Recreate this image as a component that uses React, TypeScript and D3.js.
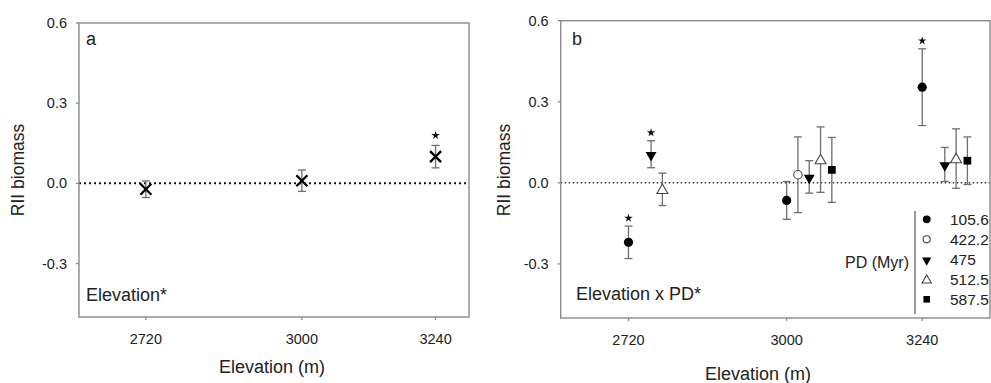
import React from "react";
import * as d3 from "d3";

// ---------- data ----------
const elevations = [2720, 3000, 3240];
const elevationTicks = [2720, 3000, 3240];
const yTicks = [-0.3, 0.0, 0.3, 0.6];

// Panel a (pooled)
const meanA = [-0.022, 0.01, 0.1];
const seA = [0.031, 0.04, 0.042];
const sigA = [false, false, true];

// Panel b (by phylogenetic distance)
const pdLabels = ["105.6", "422.2", "475", "512.5", "587.5"];
const pdShapes = ["circle", "circleOpen", "triDown", "triUp", "square"];
const mean105 = [-0.22, -0.065, 0.354];
const se105 = [0.06, 0.07, 0.142];
const sig105 = [true, false, true];
const mean422: (number | null)[] = [null, 0.03, null];
const se422: (number | null)[] = [null, 0.14, null];
const sig422 = [false, false, false];
const mean475 = [0.106, 0.022, 0.068];
const se475 = [0.05, 0.06, 0.063];
const sig475 = [true, false, false];
const mean512 = [-0.024, 0.086, 0.09];
const se512 = [0.06, 0.121, 0.11];
const sig512 = [false, false, false];
const mean587: (number | null)[] = [null, 0.048, 0.082];
const se587: (number | null)[] = [null, 0.12, 0.088];
const sig587 = [false, false, false];

const seriesB = [
  { label: pdLabels[0], shape: pdShapes[0], mean: mean105, se: se105, sig: sig105 },
  { label: pdLabels[1], shape: pdShapes[1], mean: mean422, se: se422, sig: sig422 },
  { label: pdLabels[2], shape: pdShapes[2], mean: mean475, se: se475, sig: sig475 },
  { label: pdLabels[3], shape: pdShapes[3], mean: mean512, se: se512, sig: sig512 },
  { label: pdLabels[4], shape: pdShapes[4], mean: mean587, se: se587, sig: sig587 },
];
const dodge = 20; // metres between PD levels

const FONT = "'Liberation Sans', Arial, Helvetica, sans-serif";
const FRAME = "#8a8a8a";
const ERR = "#6e6e6e";
const TXT = "#222";

function Marker({ shape, x, y, s = 1 }: { shape: string; x: number; y: number; s?: number }) {
  if (shape === "circle") return <circle cx={x} cy={y} r={4.6 * s} fill="#000" />;
  if (shape === "circleOpen")
    return <circle cx={x} cy={y} r={4.2 * s} fill="#fff" stroke="#444" strokeWidth={1.1} />;
  if (shape === "triDown") {
    const p = d3.symbol(d3.symbolTriangle, 52 * s * s)();
    return <path d={p!} transform={`translate(${x},${y + 1}) rotate(180)`} fill="#000" />;
  }
  if (shape === "triUp") {
    const p = d3.symbol(d3.symbolTriangle, 52 * s * s)();
    return (
      <path d={p!} transform={`translate(${x},${y + 1})`} fill="#fff" stroke="#444" strokeWidth={1.1} />
    );
  }
  const p = d3.symbol(d3.symbolSquare, 60 * s * s)();
  return <path d={p!} transform={`translate(${x},${y})`} fill="#000" />;
}

function Star({ x, y }: { x: number; y: number }) {
  const p = d3.symbol(d3.symbolStar, 22)();
  return <path d={p!} transform={`translate(${x},${y})`} fill="#111" />;
}

function ErrBar({ x, y0, y1, cap = 4 }: { x: number; y0: number; y1: number; cap?: number }) {
  return (
    <g stroke={ERR} strokeWidth={1.3}>
      <line x1={x} x2={x} y1={y0} y2={y1} />
      <line x1={x - cap} x2={x + cap} y1={y0} y2={y0} />
      <line x1={x - cap} x2={x + cap} y1={y1} y2={y1} />
    </g>
  );
}

function YAxis({ y, x0 }: { y: d3.ScaleLinear<number, number>; x0: number }) {
  return (
    <g>
      {yTicks.map((t) => (
        <g key={t}>
          <line x1={x0 - 3} x2={x0} y1={y(t)} y2={y(t)} stroke={FRAME} strokeWidth={1.3} />
          <text
            x={x0 - 12}
            y={y(t)}
            dy="0.35em"
            textAnchor="end"
            fontSize={14.5}
            fill={TXT}
            fontFamily={FONT}
          >
            {t.toFixed(1)}
          </text>
        </g>
      ))}
    </g>
  );
}

function XAxis({ x, y0, labelY }: { x: d3.ScaleLinear<number, number>; y0: number; labelY: number }) {
  return (
    <g>
      {elevationTicks.map((t) => (
        <g key={t}>
          <line x1={x(t)} x2={x(t)} y1={y0} y2={y0 + 3} stroke={FRAME} strokeWidth={1.3} />
          <text x={x(t)} y={labelY} textAnchor="middle" fontSize={14.5} fill={TXT} fontFamily={FONT}>
            {t}
          </text>
        </g>
      ))}
    </g>
  );
}

export default function App() {
  // Panel a scales
  const xA = d3.scaleLinear().domain([2600, 3300]).range([79, 469]);
  const yA = d3.scaleLinear().domain([-0.5, 0.6]).range([317, 23]);
  // Panel b scales
  const xB = d3.scaleLinear().domain([2600, 3360]).range([560.7, 990]);
  const yB = d3.scaleLinear().domain([-0.5, 0.6]).range([318, 20.7]);

  const legendX = 915;
  const legendRow0 = 219.3;
  const legendStep = 20;

  return (
    <div style={{ position: "absolute", left: 0, top: 0, width: 991, height: 383, overflow: "hidden", background: "#fff" }}>
      <svg width={991} height={383} style={{ display: "block" }} fontFamily={FONT}>
        <rect width={991} height={383} fill="#fff" />

        {/* ---------- Panel a ---------- */}
        <line x1={xA(2600)} x2={xA(3300)} y1={yA(0)} y2={yA(0)} stroke="#111" strokeWidth={2} strokeDasharray="2 3" />
        <rect
          x={xA(2600)}
          y={yA(0.6)}
          width={xA(3300) - xA(2600)}
          height={yA(-0.5) - yA(0.6)}
          fill="none"
          stroke={FRAME}
          strokeWidth={1.4}
        />
        <YAxis y={yA} x0={xA(2600)} />
        <XAxis x={xA} y0={yA(-0.5)} labelY={344} />
        {elevations.map((e, i) => {
          const cx = xA(e);
          const cy = yA(meanA[i]);
          const top = yA(meanA[i] + seA[i]);
          return (
            <g key={e}>
              <ErrBar x={cx} y0={top} y1={yA(meanA[i] - seA[i])} />
              <g stroke="#000" strokeWidth={2.3}>
                <line x1={cx - 5.5} x2={cx + 5.5} y1={cy - 5.5} y2={cy + 5.5} />
                <line x1={cx - 5.5} x2={cx + 5.5} y1={cy + 5.5} y2={cy - 5.5} />
              </g>
              {sigA[i] && <Star x={cx} y={top - 10} />}
            </g>
          );
        })}
        <text x={86} y={45} fontSize={18} fill={TXT}>a</text>
        <text x={86} y={300.5} fontSize={18} fill={TXT}>Elevation*</text>
        <text x={272} y={373} textAnchor="middle" fontSize={18} fill={TXT}>Elevation (m)</text>
        <text
          transform={`translate(18,170) rotate(-90)`}
          textAnchor="middle"
          dy="0.35em"
          fontSize={17.5}
          fill={TXT}
        >
          RII biomass
        </text>

        {/* ---------- Panel b ---------- */}
        <line x1={xB(2600)} x2={xB(3360)} y1={yB(0)} y2={yB(0)} stroke="#333" strokeWidth={1.5} strokeDasharray="1.5 2.5" />
        <rect
          x={xB(2600)}
          y={yB(0.6)}
          width={xB(3360) - xB(2600)}
          height={yB(-0.5) - yB(0.6)}
          fill="none"
          stroke={FRAME}
          strokeWidth={1.4}
        />
        <YAxis y={yB} x0={xB(2600)} />
        <XAxis x={xB} y0={yB(-0.5)} labelY={345} />
        {seriesB.map((s, si) =>
          elevations.map((e, i) => {
            const m = s.mean[i];
            const se = s.se[i];
            if (m == null || se == null) return null;
            const cx = xB(e + si * dodge);
            const top = yB(m + se);
            return (
              <g key={`${si}-${i}`}>
                <ErrBar x={cx} y0={top} y1={yB(m - se)} />
                <Marker shape={s.shape} x={cx} y={yB(m)} />
                {s.sig[i] && <Star x={cx} y={top - 8} />}
              </g>
            );
          })
        )}
        <text x={572} y={45} fontSize={18} fill={TXT}>b</text>
        <text x={576} y={300} fontSize={18} fill={TXT}>Elevation x PD*</text>
        <text x={758} y={380} textAnchor="middle" fontSize={18} fill={TXT}>Elevation (m)</text>
        <text
          transform={`translate(504,170) rotate(-90)`}
          textAnchor="middle"
          dy="0.35em"
          fontSize={17.5}
          fill={TXT}
        >
          RII biomass
        </text>

        {/* legend */}
        <line x1={legendX} x2={legendX} y1={211} y2={314} stroke="#555" strokeWidth={1.2} />
        <text x={909} y={262.7} dy="0.35em" textAnchor="end" fontSize={16} fill={TXT}>PD (Myr)</text>
        {seriesB.map((s, si) => {
          const yy = legendRow0 + si * legendStep;
          return (
            <g key={s.label}>
              <Marker shape={s.shape} x={926.7} y={yy} s={0.85} />
              <text x={950} y={yy} dy="0.36em" fontSize={15.5} fill={TXT}>{s.label}</text>
            </g>
          );
        })}
      </svg>
    </div>
  );
}
